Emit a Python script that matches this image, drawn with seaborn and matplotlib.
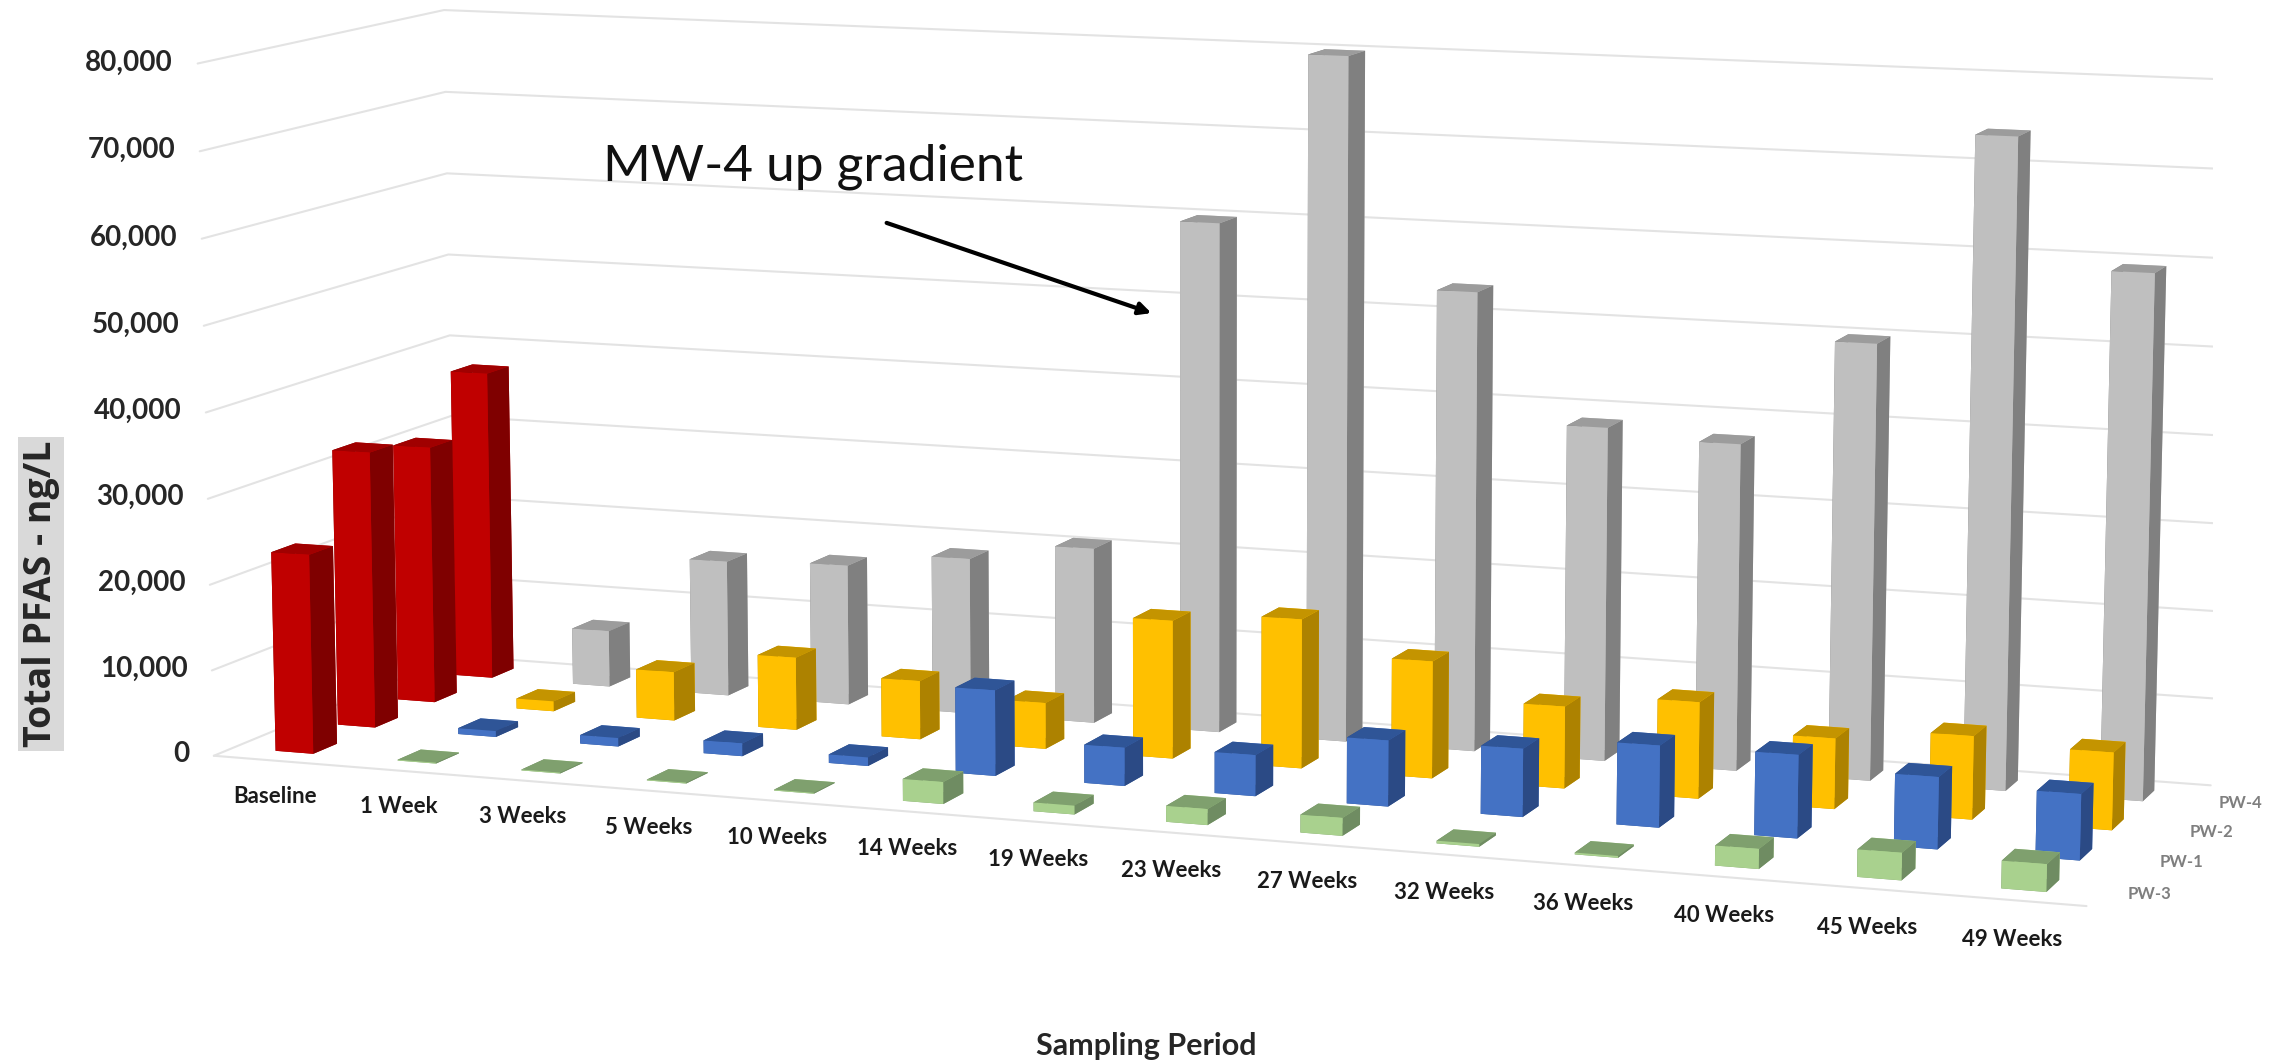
import numpy as np
import pandas as pd
import matplotlib
matplotlib.use("Agg")
import matplotlib.pyplot as plt
import seaborn as sns

sns.set_theme(style="white")
plt.rcParams["font.family"] = ["Lato", "DejaVu Sans"]

# ── data ─────────────────────────────────────────────────────
categories = ["Baseline", "1 Week", "3 Weeks", "5 Weeks", "10 Weeks", "14 Weeks", "19 Weeks",
              "23 Weeks", "27 Weeks", "32 Weeks", "36 Weeks", "40 Weeks", "45 Weeks", "49 Weeks"]
series_names = ["PW-3", "PW-1", "PW-2", "PW-4"]  # front to back
pw3 = [23300, 100, 100, 100, 100, 2500, 1000, 1800, 2000, 300, 200, 2200, 3000, 3000]
pw1 = [32700, 700, 1000, 1500, 1000, 9900, 4400, 4700, 7500, 7700, 9200, 9300, 8000, 7300]
pw2 = [30800, 1200, 5800, 8600, 6900, 5400, 16100, 17300, 13500, 9400, 11000, 8000, 9400, 8700]
pw4 = [37400, 6800, 16300, 16800, 18600, 20800, 60000, 80000, 53500, 38700, 37700, 50000, 74000, 59500]
z_ticks = [0, 10000, 20000, 30000, 40000, 50000, 60000, 70000, 80000]

df = pd.DataFrame({"PW-3": pw3, "PW-1": pw1, "PW-2": pw2, "PW-4": pw4}, index=categories)

# front, side, top
face_colors = {
    "PW-3": ("#A9D18E", "#6F8C62", "#7FA06E"),
    "PW-1": ("#4472C4", "#2B4A85", "#2F5597"),
    "PW-2": ("#FFC000", "#AD8200", "#C49400"),
    "PW-4": ("#BFBFBF", "#808080", "#9C9C9C"),
}
baseline_colors = ("#C00000", "#7F0000", "#A00000")

W, H = 2290, 1063
fig = plt.figure(figsize=(W / 100, H / 100), dpi=100)
ax = fig.add_subplot(projection="3d", computed_zorder=False)
ax.set_xlim(0, 14)
ax.set_ylim(0, 4)
ax.set_zlim(0, 80000)
ax.set_axis_off()

# camera fitted to the corners of the walls
ax.view_init(9.2988, -70.0293, -0.0107)
ax.set_proj_type("persp", focal_length=0.6152)
ax.set_box_aspect((2.739, 0.7859, 1))
S = 2076.2
ax.set_position([136.33 / W, -426.97 / H, S / W, S / H])

# ── walls ────────────────────────────────────────────────────
grid_color = "#E3E3E3"
for z in z_ticks:
    ax.plot([0, 0, 14], [0, 4, 4], [z, z, z], color=grid_color, lw=1.5, zorder=0)
ax.plot([0, 14], [0, 0], [0, 0], color=grid_color, lw=1.5, zorder=0)

# ── bars, back to front ──────────────────────────────────────
bar_w, bar_d = 0.31, 0.38
order = 1
for j, name in reversed(list(enumerate(series_names))):
    for i, cat in enumerate(categories):
        front, side, top = baseline_colors if i == 0 else face_colors[name]
        ax.bar3d(i + (1 - bar_w) / 2, j + (1 - bar_d) / 2, 0, bar_w, bar_d, df.loc[cat, name],
                 color=[top, top, front, front, side, side], shade=False,
                 linewidth=0, zorder=order)
        order += 1

# ── text ─────────────────────────────────────────────────────
for z in z_ticks:
    ax.text(-0.2, 0, z, f"{z:,}", ha="right", va="center", fontsize=20, fontweight="bold",
            color="#262626", zorder=200)
for i, cat in enumerate(categories):
    ax.text(i + 0.5, 0, -4200, cat, ha="center", va="center", fontsize=16, fontweight="bold",
            color="#1A1A1A", zorder=200)
for j, name in enumerate(series_names):
    ax.text(14.32, j + 0.5, 0, name, ha="center", va="center", fontsize=12, fontweight="bold",
            color="#7F7F7F", zorder=200)

fig.text(41 / W, 1 - 594 / H, "Total PFAS - ng/L", rotation=90, ha="center", va="center",
         fontsize=27, fontweight="bold", family="Open Sans", color="#262626",
         bbox=dict(facecolor="#D9D9D9", edgecolor="none", pad=3))
fig.text(1146 / W, 1 - 1046 / H, "Sampling Period", ha="center", va="center",
         fontsize=22, fontweight="bold", color="#262626")
fig.text(603 / W, 1 - 167 / H, "MW-4 up gradient", ha="left", va="center",
         fontsize=37, color="#111111")
ax.annotate("", xy=(1154 / W, 1 - 314 / H), xytext=(884 / W, 1 - 222 / H),
            xycoords="figure fraction", textcoords="figure fraction",
            arrowprops=dict(arrowstyle="-|>", color="black", lw=3, mutation_scale=18))

fig.savefig("out.png", dpi=100)
